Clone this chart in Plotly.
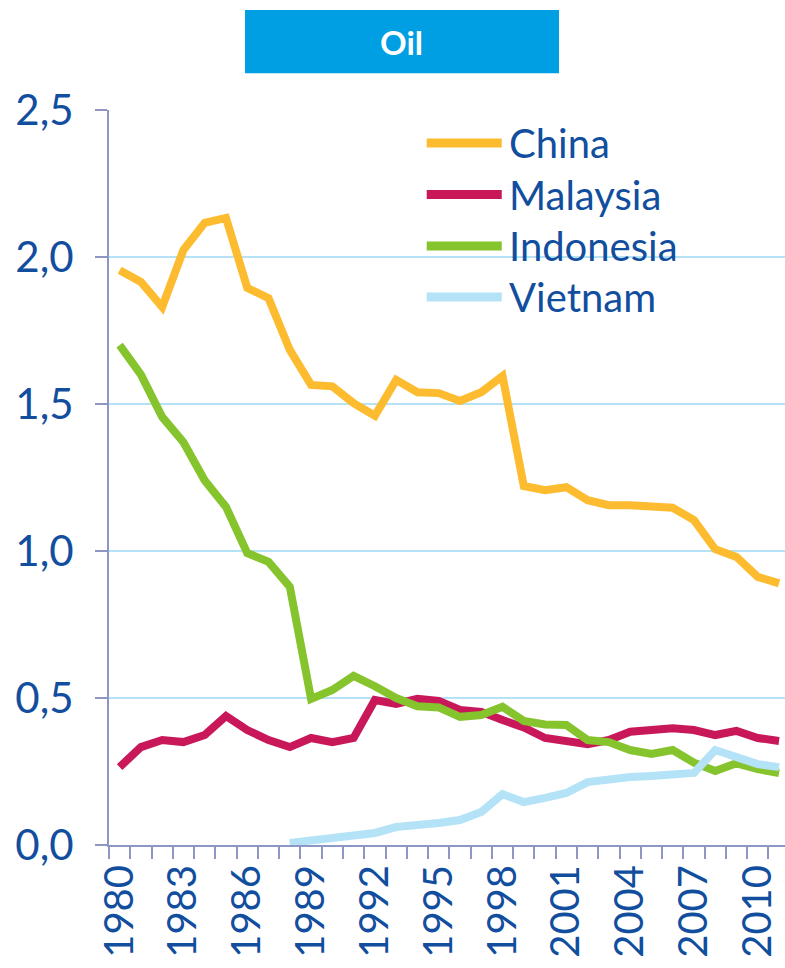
import plotly.graph_objects as go

# Oil intensity by country, 1980-2011
years = list(range(1980, 2012))

china = [1.955, 1.915, 1.83, 2.024, 2.116, 2.133, 1.895, 1.86, 1.684, 1.565,
         1.56, 1.503, 1.46, 1.582, 1.54, 1.537, 1.51, 1.54, 1.595, 1.221,
         1.207, 1.217, 1.173, 1.156, 1.156, 1.15, 1.147, 1.105, 1.006, 0.98,
         0.912, 0.89]

malaysia = [0.265, 0.333, 0.357, 0.35, 0.374, 0.439, 0.391, 0.357, 0.333, 0.364,
            0.35, 0.364, 0.493, 0.48, 0.497, 0.49, 0.459, 0.453, 0.425, 0.40,
            0.364, 0.354, 0.343, 0.357, 0.385, 0.391, 0.397, 0.391, 0.374, 0.388,
            0.364, 0.354]

indonesia = [1.70, 1.60, 1.456, 1.37, 1.24, 1.15, 0.993, 0.963, 0.878, 0.497,
             0.527, 0.575, 0.54, 0.50, 0.472, 0.468, 0.436, 0.442, 0.47, 0.422,
             0.41, 0.408, 0.357, 0.35, 0.323, 0.31, 0.323, 0.28, 0.252, 0.278,
             0.258, 0.245]

vietnam = [None] * 8 + [0.007, 0.014, 0.024, 0.03, 0.041, 0.061, 0.065, 0.075,
                        0.085, 0.112, 0.173, 0.146, 0.16, 0.177, 0.214, 0.224,
                        0.231, 0.235, 0.241, 0.245, 0.323, 0.299, 0.275, 0.265]

series = [
    ("China", china, "#FDBB30"),
    ("Malaysia", malaysia, "#C8185A"),
    ("Indonesia", indonesia, "#86C42E"),
    ("Vietnam", vietnam, "#B4E3F7"),
]

y_ticks = [0, 0.5, 1.0, 1.5, 2.0, 2.5]
y_labels = ["0,0", "0,5", "1,0", "1,5", "2,0", "2,5"]
x_ticks = list(range(1980, 2012, 3))

TEXT = "#124E9E"
AXIS = "#8E97C3"
GRID = "#B5E3F5"
FONT = "Lato"

fig = go.Figure()
for name, vals, color in series:
    fig.add_trace(go.Scatter(
        x=years, y=vals, name=name, mode="lines",
        line=dict(color=color, width=8),
        showlegend=False, connectgaps=False,
    ))

# Legend drawn as line samples with labels
row_y = [0.955, 0.885, 0.815, 0.7456]
for (name, _, color), ry in zip(series, row_y):
    fig.add_shape(type="line", xref="paper", yref="paper",
                  x0=0.470, x1=0.581, y0=ry, y1=ry,
                  line=dict(color=color, width=9))
    fig.add_annotation(xref="paper", yref="paper", x=0.589, y=ry,
                       text=name, showarrow=False, xanchor="left",
                       yanchor="middle",
                       font=dict(family=FONT, size=40, color=TEXT))

# Title box
fig.add_shape(type="rect", xref="paper", yref="paper",
              x0=0.2012, x1=0.6657, y0=1.050, y1=1.136,
              fillcolor="#009FE3", line=dict(width=0), layer="above")
fig.add_annotation(xref="paper", yref="paper", x=0.4334, y=1.093,
                   text="<b>Oil</b>", showarrow=False, xanchor="center",
                   yanchor="middle",
                   font=dict(family=FONT, size=33, color="white"))

fig.update_layout(
    width=785, height=968,
    margin=dict(l=109, r=0, t=110, b=123, pad=0),
    paper_bgcolor="white", plot_bgcolor="white",
    font=dict(family=FONT, color=TEXT),
    xaxis=dict(
        range=[1979.5, 2011.28],
        automargin=False,
        tickmode="array", tickvals=x_ticks,
        ticktext=[str(v) for v in x_ticks],
        tickangle=-90,
        tickfont=dict(family=FONT, size=40, color=TEXT),
        ticks="outside", ticklen=12, tickcolor="rgba(0,0,0,0)",
        ticklabelstandoff=-10,
        showgrid=False, zeroline=False,
        showline=True, linecolor=AXIS, linewidth=2,
        minor=dict(tick0=1979.5, dtick=1, ticks="outside", ticklen=12,
                   tickwidth=2, tickcolor=AXIS, showgrid=False),
        fixedrange=True,
    ),
    yaxis=dict(
        range=[0, 2.5],
        automargin=False,
        tickmode="array", tickvals=y_ticks, ticktext=y_labels,
        tickfont=dict(family=FONT, size=42, color=TEXT),
        ticks="outside", ticklen=12, tickwidth=2, tickcolor=AXIS,
        ticklabelstandoff=13,
        showgrid=True, gridcolor=GRID, gridwidth=2,
        zeroline=False,
        showline=True, linecolor=AXIS, linewidth=2,
        fixedrange=True,
    ),
)

fig.write_html("out.html")
